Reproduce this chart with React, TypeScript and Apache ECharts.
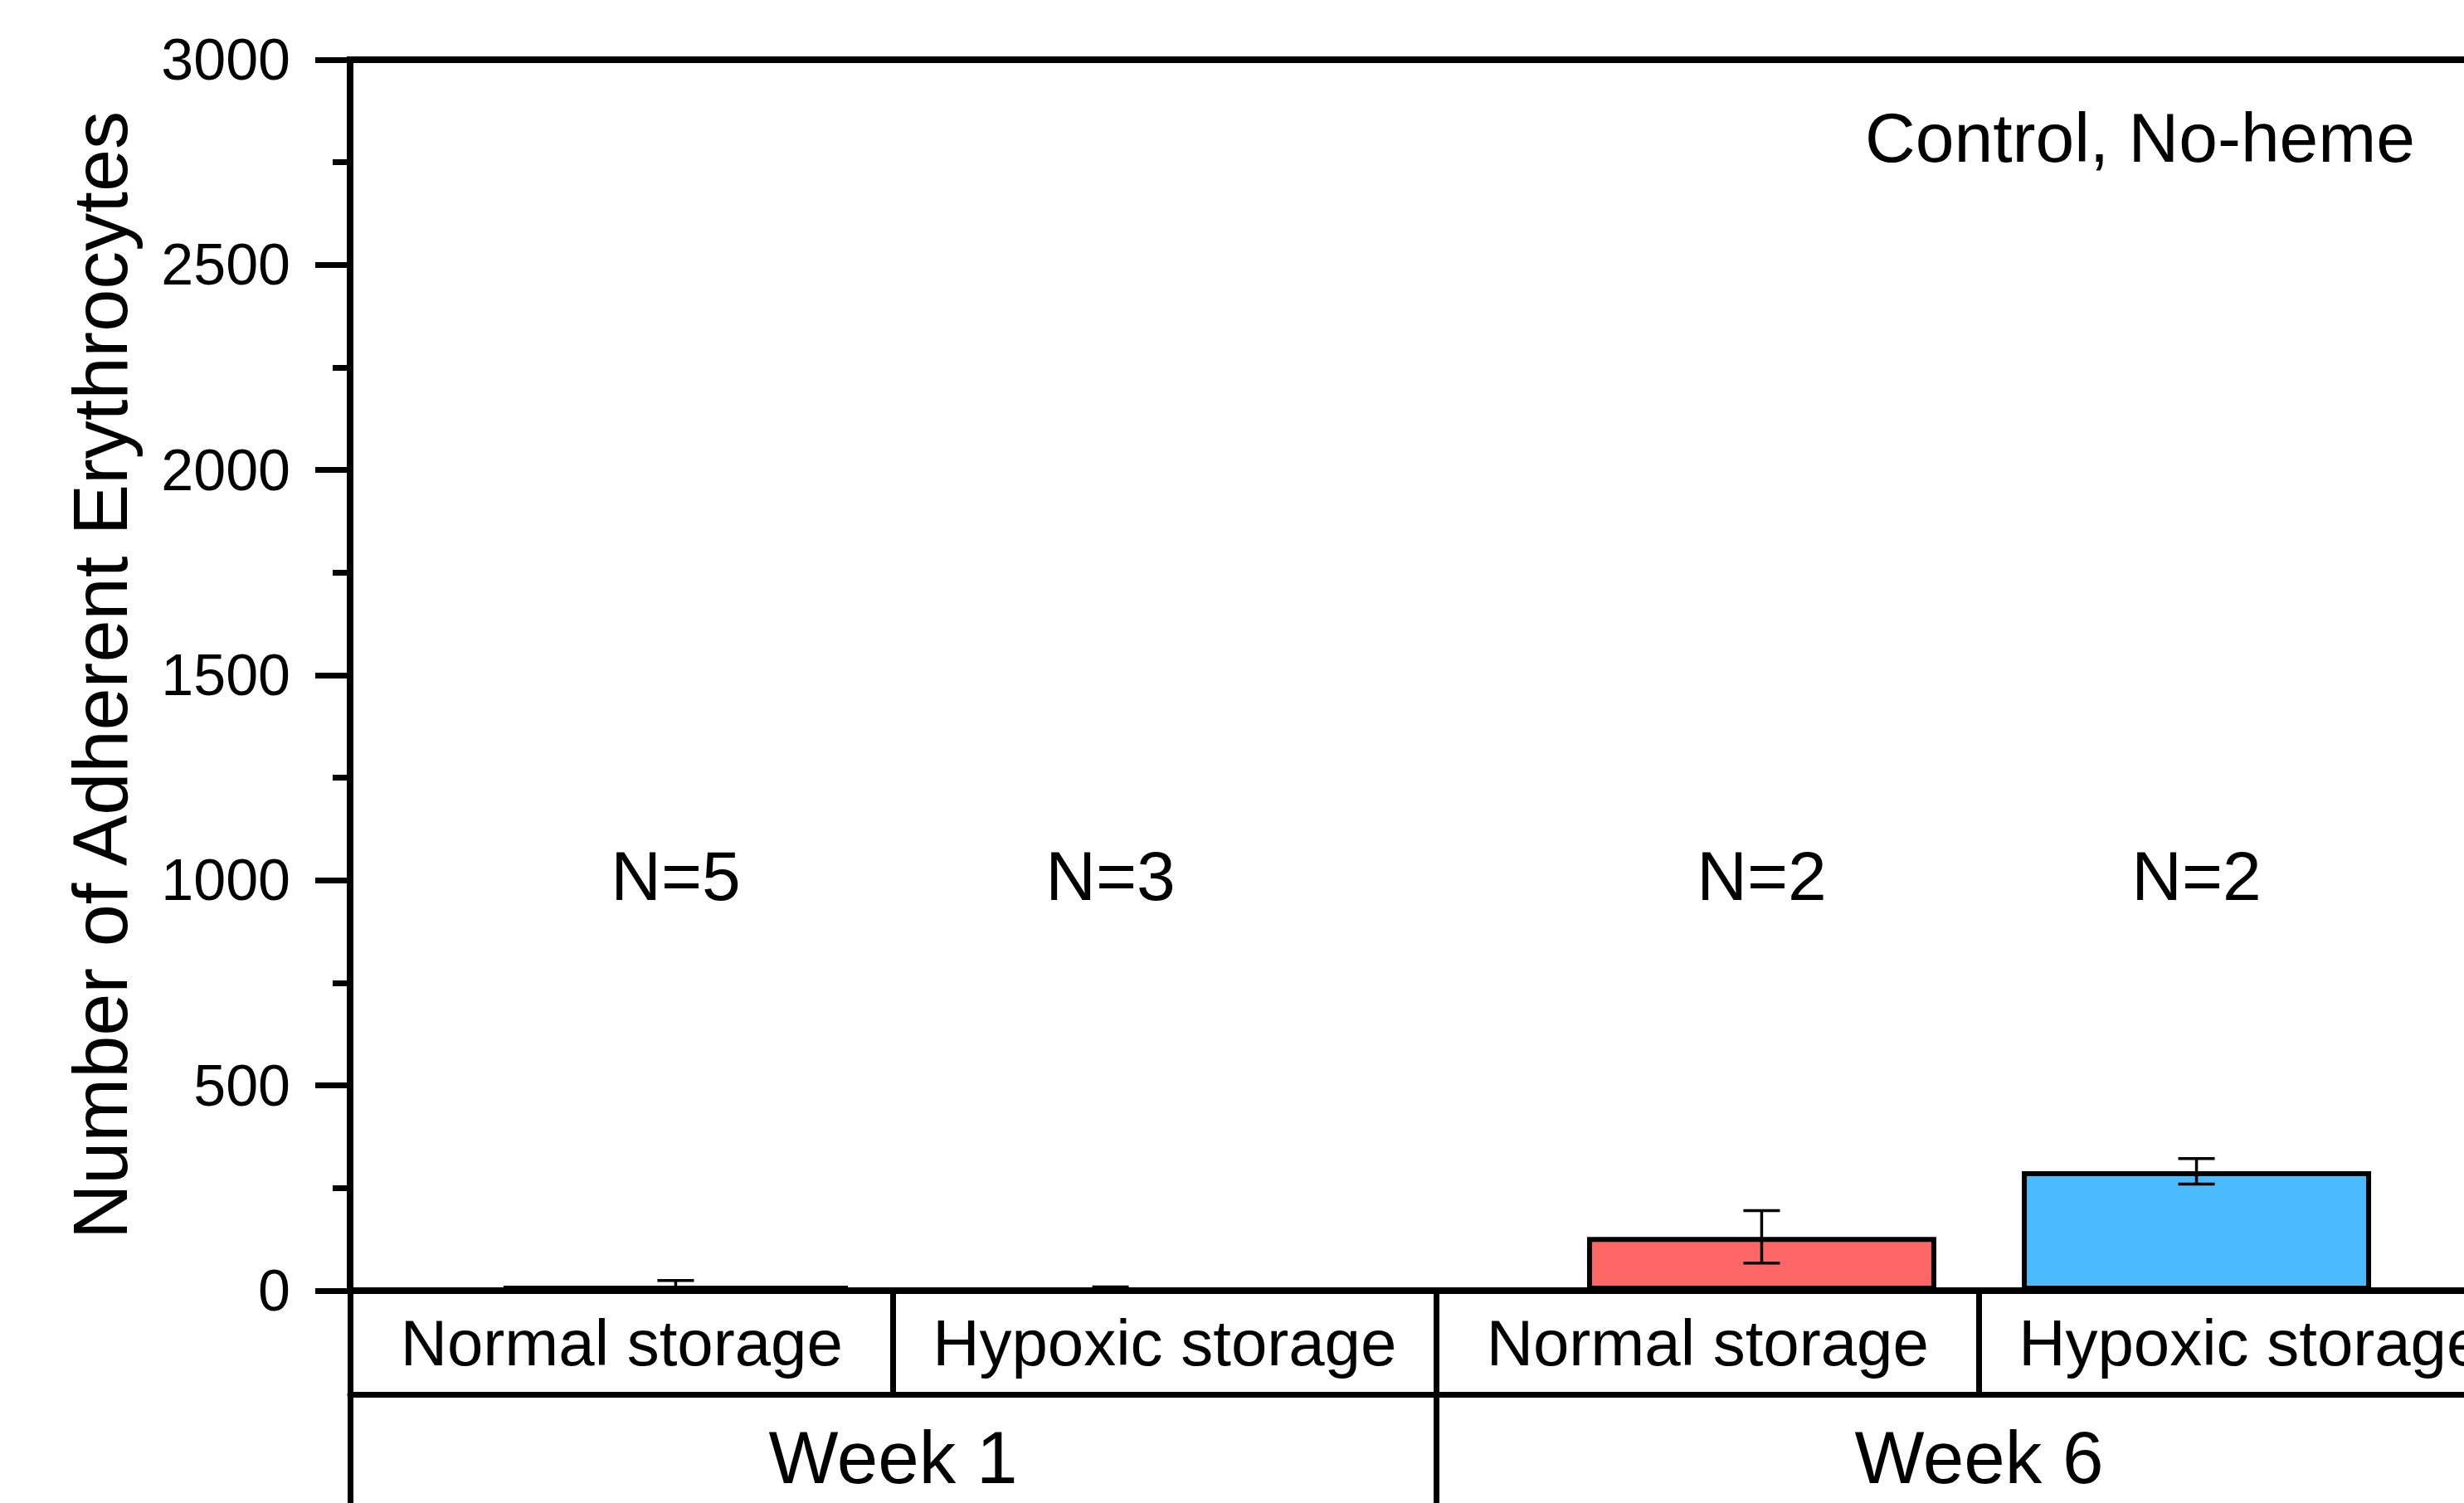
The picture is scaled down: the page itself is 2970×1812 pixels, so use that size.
import React, { useEffect, useRef } from "react";
import * as echarts from "echarts";

const weeks = ["Week 1", "Week 6"];
const storageLabels = ["Normal storage", "Hypoxic storage", "Normal storage", "Hypoxic storage"];
const normalMean = [12, 131];
const normalSD = [13, 64];
const hypoxicMean = [3, 291];
const hypoxicSD = [6, 31];
const normalN = ["N=5", "N=2"];
const hypoxicN = ["N=3", "N=2"];
const nLabelLevel = [1010, 1010];
const yTicks = { min: 0, max: 3000, interval: 500 };
const panelTitle = "Control, No-heme";
const yTitle = "Number of Adherent Erythrocytes";

const FONT = "'Liberation Sans', Arial, sans-serif";
const RED = "#FF6666";
const BLUE = "#4ABBFD";
const BAR_FRAC = 0.3216;
const GAP_FRAC = 0.245;
const CHART_W = 3100;
const CHART_H = 1812;

function barCenterX(api: any, cat: number, val: number, idx: number) {
  const c = api.coord([cat, val]);
  const catW = api.size([1, 0])[0];
  const bw = catW * BAR_FRAC;
  const gap = bw * GAP_FRAC;
  return { x: c[0] + (idx === 0 ? -1 : 1) * (bw + gap) / 2, y: c[1] };
}

export default function App() {
  const ref = useRef<HTMLDivElement>(null);
  useEffect(() => {
    document.body.style.margin = "0";
    if (!ref.current) return;
    const chart = echarts.init(ref.current, null, { renderer: "svg" });

    const errData: any[] = [];
    weeks.forEach((_, i) => {
      errData.push([i, normalMean[i], normalSD[i], 0]);
      errData.push([i, hypoxicMean[i], hypoxicSD[i], 1]);
    });
    const nData: any[] = [];
    weeks.forEach((_, i) => {
      nData.push([i, nLabelLevel[i], 0, normalN[i]]);
      nData.push([i, nLabelLevel[i], 1, hypoxicN[i]]);
    });

    const option: any = {
      animation: false,
      backgroundColor: "#ffffff",
      grid: {
        left: 422,
        top: 72,
        width: 2618,
        height: 1484,
        show: true,
        borderColor: "#000",
        borderWidth: 8,
        backgroundColor: "transparent",
        outerBoundsMode: "none",
        containLabel: false,
      },
      xAxis: [
        {
          type: "category",
          data: weeks,
          position: "bottom",
          offset: 125,
          axisLine: { show: true, onZero: false, lineStyle: { color: "#000", width: 7 } },
          axisTick: { show: true, interval: 0, length: 200, lineStyle: { color: "#000", width: 7 } },
          axisLabel: {
            show: true,
            interval: 0,
            color: "#000",
            fontFamily: FONT,
            fontSize: 89,
            lineHeight: 89,
            margin: 31,
          },
          splitLine: { show: false },
        },
        {
          type: "category",
          data: storageLabels,
          position: "bottom",
          offset: 0,
          axisLine: { show: true, onZero: false, lineStyle: { color: "#000", width: 8 } },
          axisTick: { show: true, interval: 0, length: 125, lineStyle: { color: "#000", width: 7 } },
          axisLabel: {
            show: true,
            interval: 0,
            color: "#000",
            fontFamily: FONT,
            fontSize: 78,
            lineHeight: 78,
            margin: 24,
          },
          splitLine: { show: false },
        },
      ],
      yAxis: {
        type: "value",
        min: yTicks.min,
        max: yTicks.max,
        interval: yTicks.interval,
        name: yTitle,
        nameLocation: "middle",
        nameRotate: 90,
        nameGap: 255,
        nameTextStyle: { color: "#000", fontFamily: FONT, fontSize: 92 },
        axisLine: { show: true, lineStyle: { color: "#000", width: 8 } },
        axisTick: { show: true, inside: false, length: 42, lineStyle: { color: "#000", width: 7 } },
        minorTick: { show: true, splitNumber: 2, length: 21, lineStyle: { color: "#000", width: 7 } },
        axisLabel: {
          color: "#000",
          fontFamily: FONT,
          fontSize: 70,
          margin: 72,
          formatter: (v: number) => String(v),
        },
        splitLine: { show: false },
        minorSplitLine: { show: false },
      },
      graphic: [
        {
          type: "text",
          right: CHART_W - 2911,
          top: 124,
          style: { text: panelTitle, fill: "#000", fontFamily: FONT, fontSize: 84 },
        },
      ],
      series: [
        {
          name: "Normal storage",
          type: "bar",
          xAxisIndex: 0,
          data: normalMean,
          barWidth: (BAR_FRAC * 100).toFixed(2) + "%",
          barGap: (GAP_FRAC * 100).toFixed(1) + "%",
          itemStyle: { color: RED, borderColor: "#000", borderWidth: 6 },
          z: 2,
        },
        {
          name: "Hypoxic storage",
          type: "bar",
          xAxisIndex: 0,
          data: hypoxicMean,
          barWidth: (BAR_FRAC * 100).toFixed(2) + "%",
          barGap: (GAP_FRAC * 100).toFixed(1) + "%",
          itemStyle: { color: BLUE, borderColor: "#000", borderWidth: 6 },
          z: 2,
        },
        {
          type: "custom",
          xAxisIndex: 0,
          z: 5,
          data: errData,
          renderItem: (params: any, api: any) => {
            const cat = api.value(0);
            const mean = api.value(1);
            const sd = api.value(2);
            const idx = api.value(3);
            const top = barCenterX(api, cat, mean + sd, idx);
            const bot = barCenterX(api, cat, Math.max(0, mean - sd), idx);
            const hw = 22;
            const st = { stroke: "#000", lineWidth: 3.5 };
            return {
              type: "group",
              children: [
                { type: "line", shape: { x1: top.x, y1: top.y, x2: bot.x, y2: bot.y }, style: st },
                { type: "line", shape: { x1: top.x - hw, y1: top.y, x2: top.x + hw, y2: top.y }, style: st },
                { type: "line", shape: { x1: bot.x - hw, y1: bot.y, x2: bot.x + hw, y2: bot.y }, style: st },
              ],
            };
          },
        },
        {
          type: "custom",
          xAxisIndex: 0,
          z: 6,
          data: nData,
          renderItem: (params: any, api: any) => {
            const cat = api.value(0);
            const lvl = api.value(1);
            const idx = api.value(2);
            const p = barCenterX(api, cat, lvl, idx);
            return {
              type: "text",
              x: p.x,
              y: p.y,
              style: {
                text: nData[params.dataIndex][3],
                fill: "#000",
                fontFamily: FONT,
                fontSize: 84,
                align: "center",
                verticalAlign: "middle",
              },
            };
          },
        },
      ],
    };
    chart.setOption(option);
    return () => chart.dispose();
  }, []);
  return (
    <div style={{ width: 2970, height: 1812, overflow: "hidden", position: "relative" }}>
      <div ref={ref} style={{ width: CHART_W, height: CHART_H }} />
    </div>
  );
}
